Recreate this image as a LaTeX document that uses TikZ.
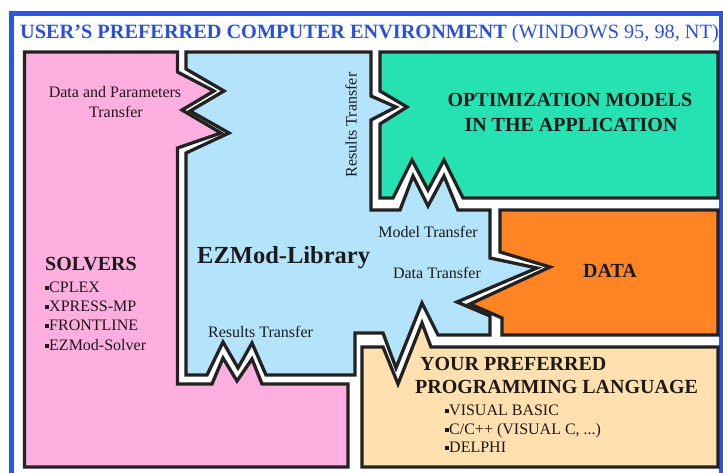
\documentclass[tikz,border=0pt]{standalone}
\usepackage{fontspec}
\setmainfont{Liberation Serif}
\definecolor{framblue}{HTML}{2A56E0}
\definecolor{titleblue}{HTML}{2A4FE0}
\definecolor{pinkfill}{HTML}{FFAEE0}
\definecolor{bluefill}{HTML}{B4E4FB}
\definecolor{greenfill}{HTML}{26E2B3}
\definecolor{orangefill}{HTML}{FF8424}
\definecolor{tanfill}{HTML}{FFE0AE}
\definecolor{lineblack}{HTML}{222222}
\definecolor{textblack}{HTML}{1A1A1A}
\newcommand{\sqb}{\rule[2.5pt]{4pt}{4pt}}
\begin{document}
\begin{tikzpicture}[x=1pt,y=-1pt,
  region/.style={draw=lineblack, line width=3.3pt, line join=miter},
  lbl/.style={font=\fontsize{16}{19}\selectfont, inner sep=0pt, text=textblack},
  ttl/.style={font=\fontsize{20}{24}\selectfont\bfseries, inner sep=0pt, text=textblack}]
\useasboundingbox (0,0) rectangle (723,473);
% frame
\draw[framblue, line width=4.5pt] (11.5,600) -- (11.5,13.5) -- (721,13.5) -- (721,600);
% pink: solvers
\path[region, fill=pinkfill] (24.5,52) -- (177.5,52) -- (177.5,72) -- (214,91) -- (182,110)
  -- (221,133) -- (177.5,148) -- (177.5,384) -- (212,384) -- (223,358) -- (237,381)
  -- (252,359) -- (262,384) -- (348,384) -- (348,467) -- (24.5,467) -- cycle;
% blue: library
\path[region, fill=bluefill] (186,52) -- (371,52) -- (371,96) -- (396,107) -- (371,120)
  -- (371,210) -- (400,210) -- (413,176) -- (428,206) -- (444,176) -- (458,210)
  -- (490,210) -- (490,258) -- (537,268) -- (457,302) -- (490,316) -- (490,335)
  -- (438,335) -- (422,303) -- (396,368) -- (383,333) -- (355,333) -- (355,375)
  -- (266,375) -- (252,343) -- (238,368) -- (223,342) -- (207,375) -- (186,375)
  -- (186,153) -- (229,133) -- (190,111) -- (224,91) -- (186,69) -- cycle;
% green: optimization models
\path[region, fill=greenfill] (380,52) -- (718,52) -- (718,198) -- (463,198) -- (444,160)
  -- (428,190) -- (412,160) -- (393,198) -- (380,198) -- (380,124) -- (407,107)
  -- (380,91) -- cycle;
% orange: data
\path[region, fill=orangefill] (500,210) -- (718,210) -- (718,335) -- (502,335) -- (502,318)
  -- (470,304) -- (550,267) -- (500,252) -- cycle;
% tan: language
\path[region, fill=tanfill] (362,347) -- (383,347) -- (398,384) -- (422,323) -- (431,347)
  -- (718,347) -- (718,467) -- (362,467) -- cycle;
% title
\node[anchor=base west, inner sep=0pt, text=titleblue, font=\fontsize{20.3}{24}\selectfont] (title) at (20,39)
  {\textbf{USER’S PREFERRED COMPUTER ENVIRONMENT} (WINDOWS 95, 98, NT)};
% labels
\node[lbl, anchor=base] (dpt1) at (115,98) {Data and Parameters};
\node[lbl, anchor=base] (dpt2) at (116,118) {Transfer};
\node[lbl, rotate=90] (rtv) at (351,125) {Results Transfer};
\node[lbl, anchor=base west] (rtb) at (208,337) {Results Transfer};
\node[lbl, anchor=base] (mt) at (428,237) {Model Transfer};
\node[lbl, anchor=base] (dt) at (437,278) {Data Transfer};
\node[anchor=base west, inner sep=0pt, text=textblack, font=\fontsize{24.5}{28}\selectfont\bfseries] (lib) at (197,263) {EZMod-Library};
\node[ttl, anchor=base west] (solv) at (45,270) {SOLVERS};
\node[lbl, anchor=base west] (s1) at (45,292) {\sqb CPLEX};
\node[lbl, anchor=base west] (s2) at (45,311) {\sqb XPRESS-MP};
\node[lbl, anchor=base west] (s3) at (45,330) {\sqb FRONTLINE};
\node[lbl, anchor=base west] (s4) at (45,350) {\sqb EZMod-Solver};
\node[ttl, anchor=base] (opt1) at (570,107) {OPTIMIZATION MODELS};
\node[ttl, anchor=base] (opt2) at (571,132) {IN THE APPLICATION};
\node[ttl, anchor=base] (data) at (610,277) {DATA};
\node[ttl, anchor=base west] (lang1) at (420,370) {YOUR PREFERRED};
\node[ttl, anchor=base west] (lang2) at (415,393) {PROGRAMMING LANGUAGE};
\node[lbl, anchor=base west] (l1) at (445,415) {\sqb VISUAL BASIC};
\node[lbl, anchor=base west] (l2) at (445,434) {\sqb C/C++ (VISUAL C, ...)};
\node[lbl, anchor=base west] (l3) at (445,452) {\sqb DELPHI};
\end{tikzpicture}
\end{document}
